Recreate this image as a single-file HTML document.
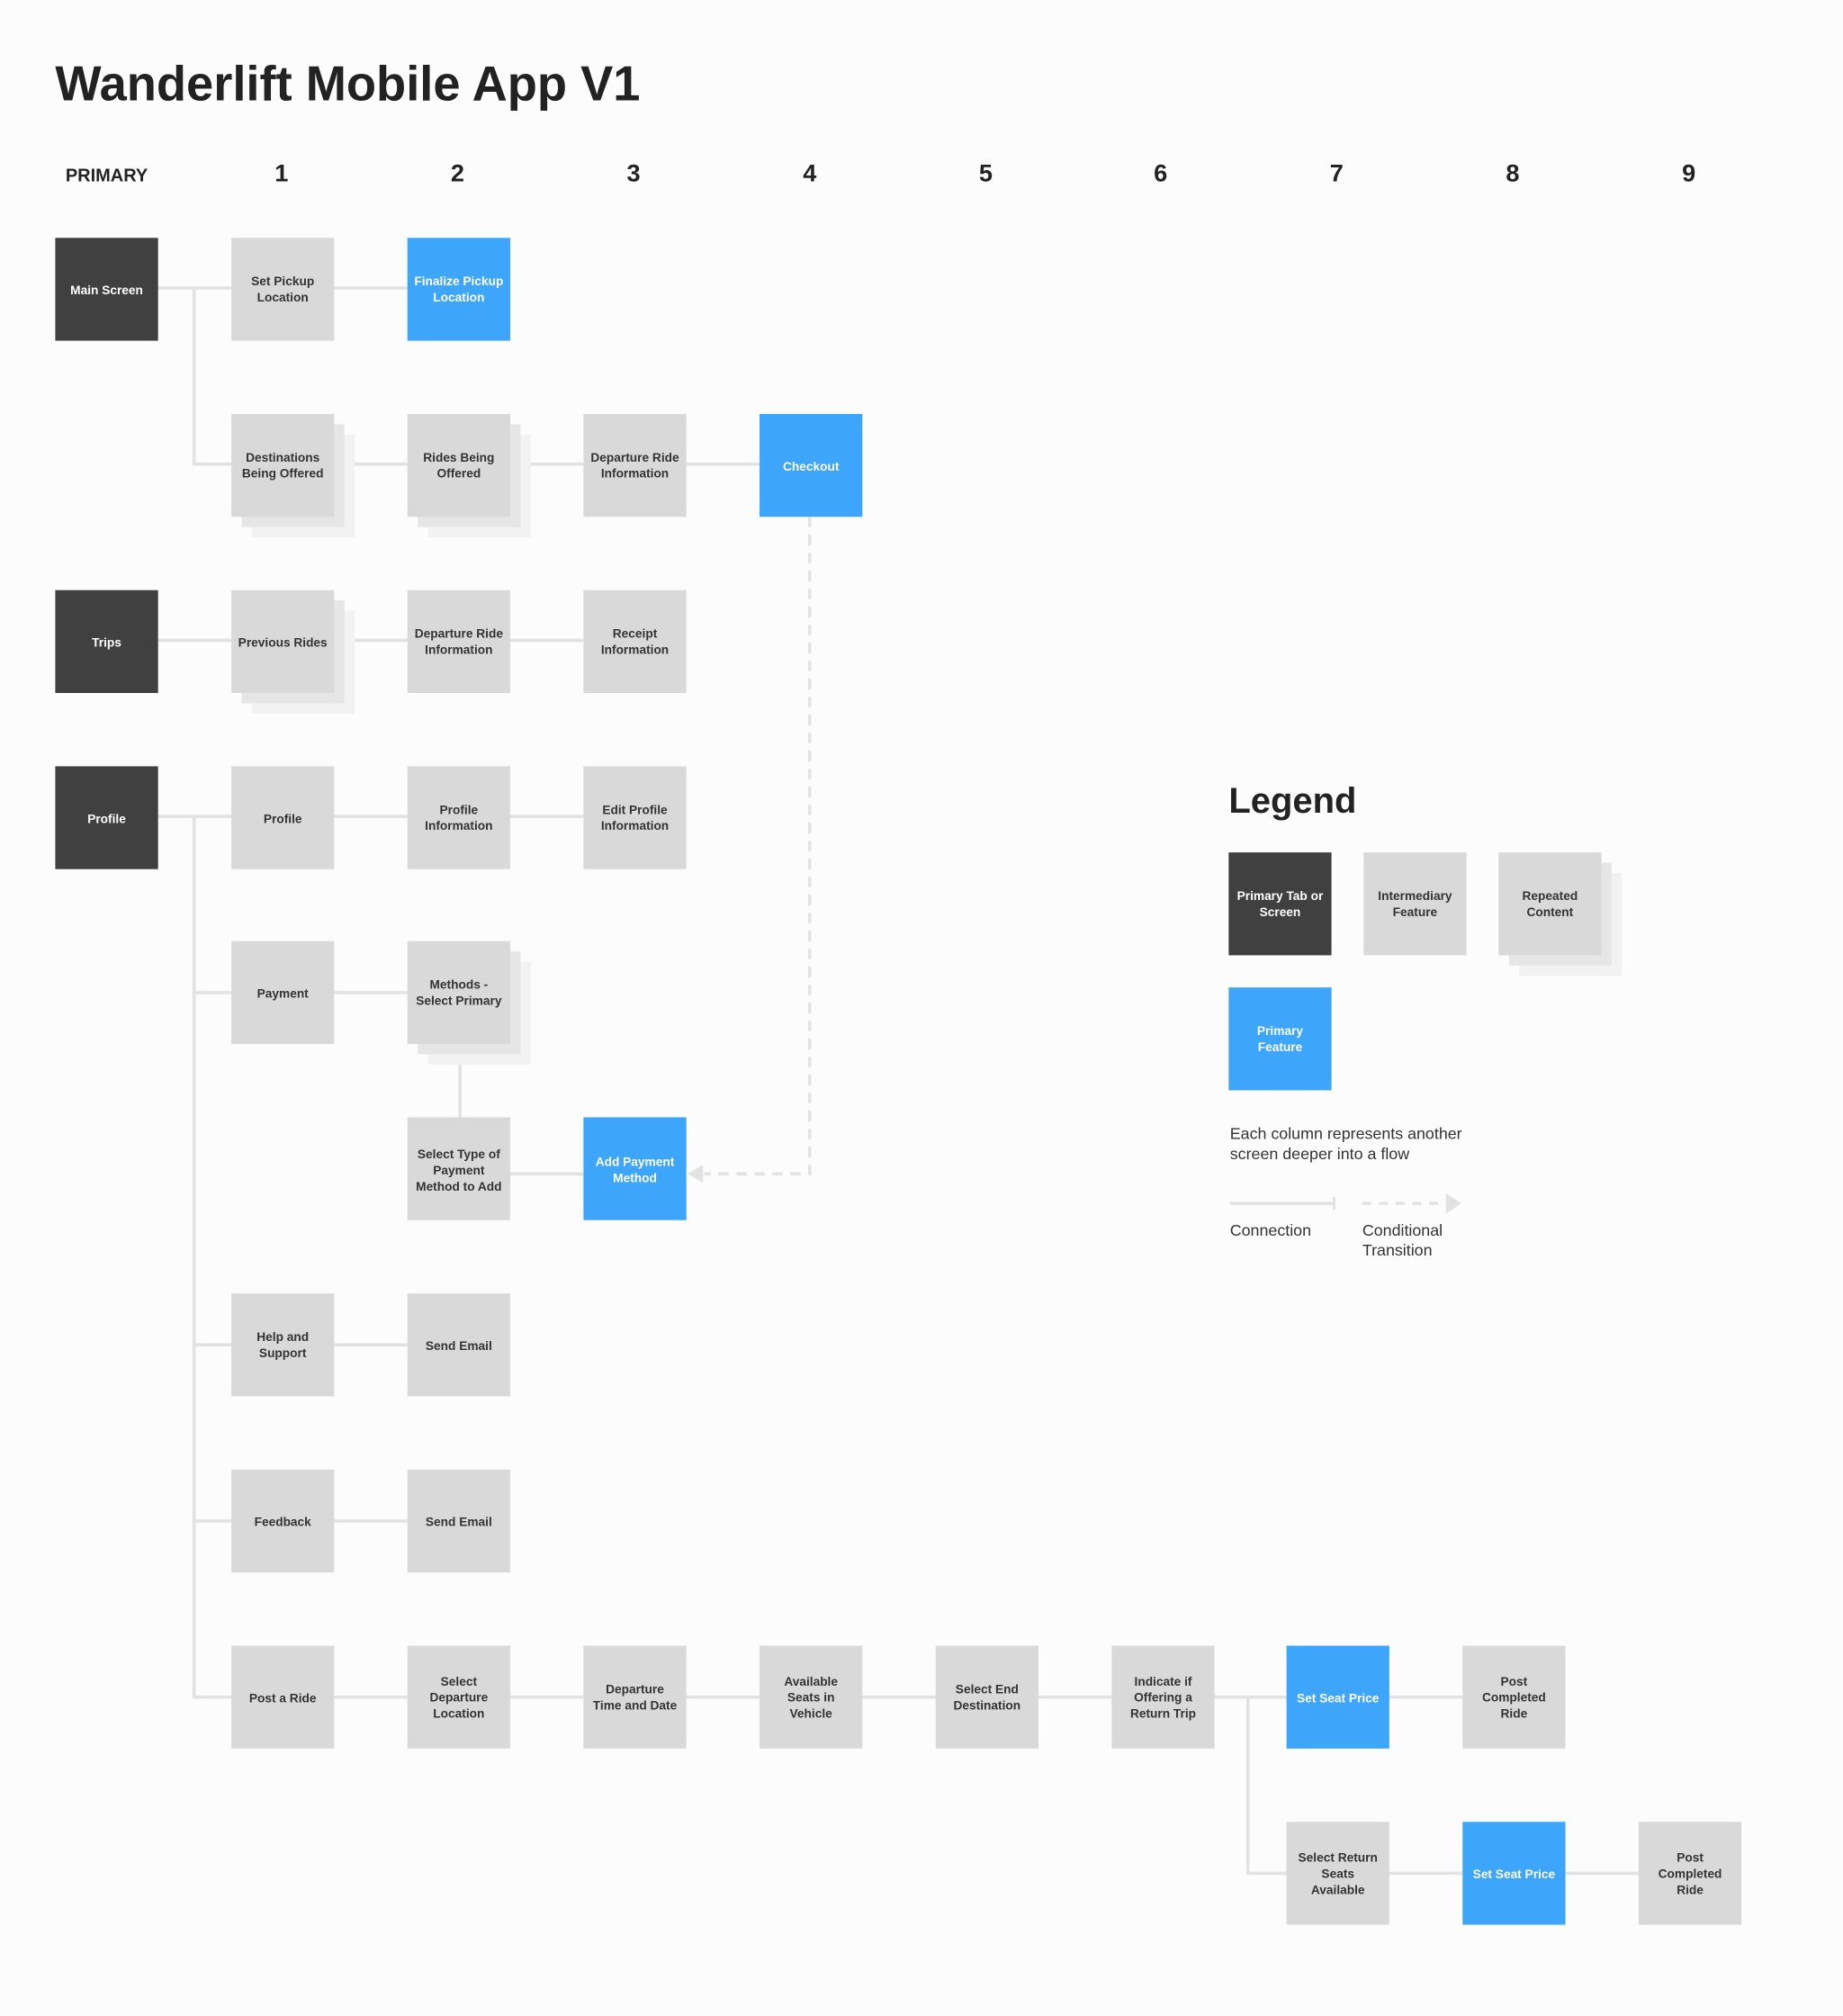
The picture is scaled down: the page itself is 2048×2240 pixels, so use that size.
<!DOCTYPE html>
<html><head><meta charset="utf-8"><style>
html,body{margin:0;padding:0;background:#fcfcfc;}
svg{display:block;}
text{font-family:"Liberation Sans",sans-serif;}
.b{font-size:9.6px;font-weight:bold;text-anchor:middle;fill:#333;}
.w{fill:#fff;}
.h{font-size:19px;font-weight:bold;fill:#222;text-anchor:middle;}
.ln{stroke:#e2e2e2;stroke-width:2.5;fill:none;}
</style></head><body>
<svg width="2048" height="2240" viewBox="0 0 1434 1568" preserveAspectRatio="none" xmlns="http://www.w3.org/2000/svg">
<rect width="1434" height="1568" fill="#fcfcfc"/>
<text x="43" y="78" style="font-size:38px;font-weight:bold;fill:#222">Wanderlift Mobile App V1</text>
<text x="83" y="141" style="font-size:14px;font-weight:bold;fill:#222;text-anchor:middle">PRIMARY</text>
<text x="219" y="141" class="h">1</text><text x="356" y="141" class="h">2</text><text x="493" y="141" class="h">3</text>
<text x="630" y="141" class="h">4</text><text x="767" y="141" class="h">5</text><text x="903" y="141" class="h">6</text>
<text x="1040" y="141" class="h">7</text><text x="1177" y="141" class="h">8</text><text x="1314" y="141" class="h">9</text>

<!-- connectors -->
<g class="ln">
<path d="M123 224H180M151 224V361H180M260 224H317"/>
<path d="M260 361H317M397 361H454M534 361H591"/>
<path d="M123 498H180M260 498H317M397 498H454"/>
<path d="M123 635H180M151 635V1320H180M151 772H180M151 1046H180M151 1183H180"/>
<path d="M260 635H317M397 635H454M260 772H317M358 812V869M397 913H454"/>
<path d="M260 1046H317M260 1183H317"/>
<path d="M260 1320H317M397 1320H454M534 1320H591M671 1320H728M808 1320H865M944 1320H1001M971 1320V1457H1001M1081 1320H1138M1081 1457H1138M1218 1457H1275"/>
<path d="M630 402V913H548" stroke-dasharray="8 6"/>
</g>
<polygon points="535,913 547,906 547,920" fill="#e2e2e2"/>

<!-- stacks -->
<g>
<rect x="196" y="338" width="80" height="80" fill="#f2f2f2"/><rect x="188" y="330" width="80" height="80" fill="#e6e6e6"/>
<rect x="333" y="338" width="80" height="80" fill="#f2f2f2"/><rect x="325" y="330" width="80" height="80" fill="#e6e6e6"/>
<rect x="196" y="475" width="80" height="80" fill="#f2f2f2"/><rect x="188" y="467" width="80" height="80" fill="#e6e6e6"/>
<rect x="333" y="748" width="80" height="80" fill="#f2f2f2"/><rect x="325" y="740" width="80" height="80" fill="#e6e6e6"/>
<rect x="1182" y="679" width="80" height="80" fill="#f2f2f2"/><rect x="1174" y="671" width="80" height="80" fill="#e6e6e6"/>
</g>

<!-- dark -->
<g fill="#404040">
<rect x="43" y="185" width="80" height="80"/><rect x="43" y="459" width="80" height="80"/><rect x="43" y="596" width="80" height="80"/><rect x="956" y="663" width="80" height="80"/>
</g>
<!-- blue -->
<g fill="#3da5fa">
<rect x="317" y="185" width="80" height="80"/><rect x="591" y="322" width="80" height="80"/><rect x="454" y="869" width="80" height="80"/>
<rect x="1001" y="1280" width="80" height="80"/><rect x="1138" y="1417" width="80" height="80"/><rect x="956" y="768" width="80" height="80"/>
</g>
<!-- gray -->
<g fill="#d9d9d9">
<rect x="180" y="185" width="80" height="80"/>
<rect x="180" y="322" width="80" height="80"/><rect x="317" y="322" width="80" height="80"/><rect x="454" y="322" width="80" height="80"/>
<rect x="180" y="459" width="80" height="80"/><rect x="317" y="459" width="80" height="80"/><rect x="454" y="459" width="80" height="80"/>
<rect x="180" y="596" width="80" height="80"/><rect x="317" y="596" width="80" height="80"/><rect x="454" y="596" width="80" height="80"/>
<rect x="180" y="732" width="80" height="80"/><rect x="317" y="732" width="80" height="80"/>
<rect x="317" y="869" width="80" height="80"/>
<rect x="180" y="1006" width="80" height="80"/><rect x="317" y="1006" width="80" height="80"/>
<rect x="180" y="1143" width="80" height="80"/><rect x="317" y="1143" width="80" height="80"/>
<rect x="180" y="1280" width="80" height="80"/><rect x="317" y="1280" width="80" height="80"/><rect x="454" y="1280" width="80" height="80"/>
<rect x="591" y="1280" width="80" height="80"/><rect x="728" y="1280" width="80" height="80"/><rect x="865" y="1280" width="80" height="80"/>
<rect x="1138" y="1280" width="80" height="80"/>
<rect x="1001" y="1417" width="80" height="80"/><rect x="1275" y="1417" width="80" height="80"/>
<rect x="1061" y="663" width="80" height="80"/><rect x="1166" y="663" width="80" height="80"/>
</g>

<!-- labels -->
<text class="b w" x="83" y="229">Main Screen</text>
<text class="b" x="220" y="222">Set Pickup<tspan x="220" dy="12.5">Location</tspan></text>
<text class="b w" x="357" y="222">Finalize Pickup<tspan x="357" dy="12.5">Location</tspan></text>
<text class="b" x="220" y="359">Destinations<tspan x="220" dy="12.5">Being Offered</tspan></text>
<text class="b" x="357" y="359">Rides Being<tspan x="357" dy="12.5">Offered</tspan></text>
<text class="b" x="494" y="359">Departure Ride<tspan x="494" dy="12.5">Information</tspan></text>
<text class="b w" x="631" y="366">Checkout</text>
<text class="b w" x="83" y="503">Trips</text>
<text class="b" x="220" y="503">Previous Rides</text>
<text class="b" x="357" y="496">Departure Ride<tspan x="357" dy="12.5">Information</tspan></text>
<text class="b" x="494" y="496">Receipt<tspan x="494" dy="12.5">Information</tspan></text>
<text class="b w" x="83" y="640">Profile</text>
<text class="b" x="220" y="640">Profile</text>
<text class="b" x="357" y="633">Profile<tspan x="357" dy="12.5">Information</tspan></text>
<text class="b" x="494" y="633">Edit Profile<tspan x="494" dy="12.5">Information</tspan></text>
<text class="b" x="220" y="776">Payment</text>
<text class="b" x="357" y="769">Methods -<tspan x="357" dy="12.5">Select Primary</tspan></text>
<text class="b" x="357" y="901">Select Type of<tspan x="357" dy="12.5">Payment</tspan><tspan x="357" dy="12.5">Method to Add</tspan></text>
<text class="b w" x="494" y="907">Add Payment<tspan x="494" dy="12.5">Method</tspan></text>
<text class="b" x="220" y="1043">Help and<tspan x="220" dy="12.5">Support</tspan></text>
<text class="b" x="357" y="1050">Send Email</text>
<text class="b" x="220" y="1187">Feedback</text>
<text class="b" x="357" y="1187">Send Email</text>
<text class="b" x="220" y="1324">Post a Ride</text>
<text class="b" x="357" y="1311">Select<tspan x="357" dy="12.5">Departure</tspan><tspan x="357" dy="12.5">Location</tspan></text>
<text class="b" x="494" y="1317">Departure<tspan x="494" dy="12.5">Time and Date</tspan></text>
<text class="b" x="631" y="1311">Available<tspan x="631" dy="12.5">Seats in</tspan><tspan x="631" dy="12.5">Vehicle</tspan></text>
<text class="b" x="768" y="1317">Select End<tspan x="768" dy="12.5">Destination</tspan></text>
<text class="b" x="905" y="1311">Indicate if<tspan x="905" dy="12.5">Offering a</tspan><tspan x="905" dy="12.5">Return Trip</tspan></text>
<text class="b w" x="1041" y="1324">Set Seat Price</text>
<text class="b" x="1178" y="1311">Post<tspan x="1178" dy="12.5">Completed</tspan><tspan x="1178" dy="12.5">Ride</tspan></text>
<text class="b" x="1041" y="1448">Select Return<tspan x="1041" dy="12.5">Seats</tspan><tspan x="1041" dy="12.5">Available</tspan></text>
<text class="b w" x="1178" y="1461">Set Seat Price</text>
<text class="b" x="1315" y="1448">Post<tspan x="1315" dy="12.5">Completed</tspan><tspan x="1315" dy="12.5">Ride</tspan></text>

<!-- legend -->
<text x="956" y="632" style="font-size:28px;font-weight:bold;fill:#222">Legend</text>
<text class="b w" x="996" y="700">Primary Tab or<tspan x="996" dy="12.5">Screen</tspan></text>
<text class="b" x="1101" y="700">Intermediary<tspan x="1101" dy="12.5">Feature</tspan></text>
<text class="b" x="1206" y="700">Repeated<tspan x="1206" dy="12.5">Content</tspan></text>
<text class="b w" x="996" y="805">Primary<tspan x="996" dy="12.5">Feature</tspan></text>
<text x="957" y="886" style="font-size:12.5px;fill:#333">Each column represents another<tspan x="957" dy="15.5">screen deeper into a flow</tspan></text>
<path d="M957 936H1038" stroke="#e2e2e2" stroke-width="2.5"/><path d="M1038 931V941" stroke="#e2e2e2" stroke-width="2"/>
<path d="M1060 936H1125" stroke="#e2e2e2" stroke-width="2.5" stroke-dasharray="7 6"/>
<polygon points="1125,928 1137,936 1125,944" fill="#e2e2e2"/>
<text x="957" y="961" style="font-size:12.5px;fill:#333">Connection</text>
<text x="1060" y="961" style="font-size:12.5px;fill:#333">Conditional<tspan x="1060" dy="15.5">Transition</tspan></text>
</svg>
</body></html>
